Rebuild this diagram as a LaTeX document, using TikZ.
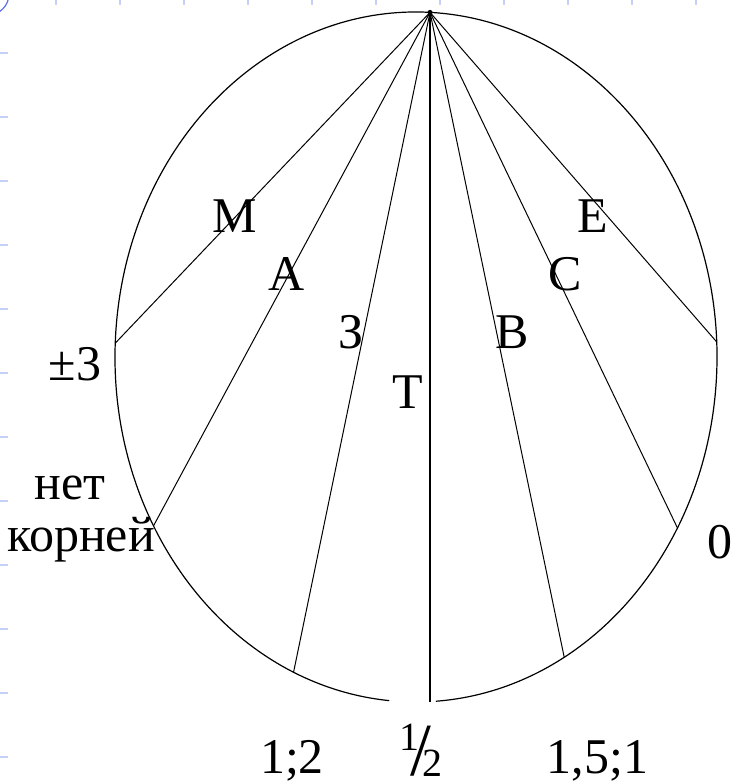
\documentclass[tikz,border=0pt]{standalone}
\usepackage{fontspec}
\setmainfont{Liberation Serif}
\definecolor{gridblue}{RGB}{196,208,246}
\definecolor{slideblue}{RGB}{90,110,235}

\begin{document}
\begin{tikzpicture}[x=1pt, y=-1pt,
	rim/.style={line width=1.2pt},
	chord/.style={line width=1pt},
	lbl/.style={anchor=base, inner sep=0pt, font=\fontsize{50}{52}\selectfont},
	tick/.style={gridblue, line width=1.5pt}]
	\useasboundingbox (0, 0) rectangle (732, 783);
	% Slide background:
	\foreach \x in {56,120,...,696} \draw[tick] (\x, 0) -- (\x, 5);
	\foreach \y in {53,117,...,757} \draw[tick] (0, \y) -- (8, \y);
	\draw[slideblue, line width=1.2pt] (-12, -6) circle[radius=21];
	% Circle, points on it and chords:
	\coordinate (c) at (416, 357);
	\path (c) ++(272.67:301 and 345) coordinate (apex);
	\path (c) ++(182.3:301 and 345) coordinate (pM);
	\path (c) ++(150.7:301 and 345) coordinate (pA);
	\path (c) ++(114:301 and 345) coordinate (pZ);
	\path (c) ++(87.33:301 and 345) coordinate (pT);
	\path (c) ++(60.5:301 and 345) coordinate (pV);
	\path (c) ++(29.7:301 and 345) coordinate (pS);
	\path (c) ++(357.5:301 and 345) coordinate (pE);
	\draw[rim] (c) ++(95.1:301 and 345) arc[start angle=95.1, end angle=446.2, x radius=301, y radius=345];
	\draw[chord] (apex) -- (pM);
	\draw[chord] (apex) -- (pA);
	\draw[chord] (apex) -- (pZ);
	\draw[line width=1.6pt] (apex) -- (pT);
	\draw[chord] (apex) -- (pV);
	\draw[chord] (apex) -- (pS);
	\draw[chord] (apex) -- (pE);
	\fill (apex) circle[radius=2.5];
	% Letters on the chords:
	\node[lbl] (lM) at (235, 233) {М};
	\node[lbl] (lA) at (287, 290) {А};
	\node[lbl] (lZ) at (351, 348) {З};
	\node[lbl] (lT) at (408, 408) {Т};
	\node[lbl] (lV) at (512, 348) {В};
	\node[lbl] (lS) at (565, 290) {С};
	\node[lbl] (lE) at (593, 233) {Е};
	% Roots round the circle:
	\node[lbl] (pm3) at (75, 380) {±3};
	\node[lbl] (net) at (70, 499) {нет};
	\node[lbl] (korn) at (81, 551) {корней};
	\node[lbl] (zero) at (720, 558) {0};
	\node[lbl] (r12) at (292, 773) {1;2};
	\node[lbl, font=\fontsize{40}{40}\selectfont] (half) at (421, 763) {\raisebox{13pt}{1}\kern-9pt\smash{\raisebox{-12pt}{\fontsize{75}{75}\selectfont/}}\kern-9pt\smash{\raisebox{-13pt}{2}}};
	\node[lbl] (r151) at (597.5, 773) {1,5;1};
\end{tikzpicture}
\end{document}
